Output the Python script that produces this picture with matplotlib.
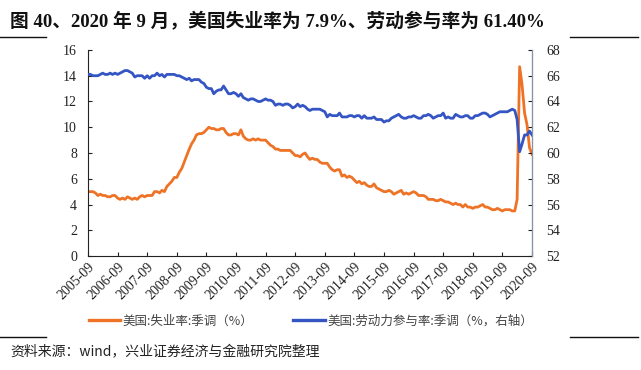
import matplotlib
matplotlib.use("Agg")
import matplotlib.pyplot as plt
import pandas as pd
from matplotlib.lines import Line2D

plt.rcParams["font.family"] = ["Liberation Serif", "Noto Sans CJK SC", "DejaVu Sans"]

# monthly, 2005-09 .. 2020-09
months = pd.date_range("2005-09-01", "2020-09-01", freq="MS")

unemployment = [
    5.0, 5.0, 5.0, 4.9,
    4.7, 4.8, 4.7, 4.7, 4.6, 4.6, 4.7, 4.7, 4.5, 4.4, 4.5, 4.4,
    4.6, 4.5, 4.4, 4.5, 4.4, 4.6, 4.7, 4.6, 4.7, 4.7, 4.7, 5.0,
    5.0, 4.9, 5.1, 5.0, 5.4, 5.6, 5.8, 6.1, 6.1, 6.5, 6.8, 7.3,
    7.8, 8.3, 8.7, 9.0, 9.4, 9.5, 9.5, 9.6, 9.8, 10.0, 9.9, 9.9,
    9.8, 9.8, 9.9, 9.9, 9.6, 9.4, 9.4, 9.5, 9.5, 9.4, 9.8, 9.3,
    9.1, 9.0, 9.0, 9.1, 9.0, 9.1, 9.0, 9.0, 9.0, 8.8, 8.6, 8.5,
    8.3, 8.3, 8.2, 8.2, 8.2, 8.2, 8.2, 8.0, 7.8, 7.8, 7.7, 7.9,
    8.0, 7.7, 7.5, 7.6, 7.5, 7.5, 7.3, 7.2, 7.2, 7.2, 6.9, 6.7,
    6.6, 6.7, 6.7, 6.2, 6.3, 6.1, 6.2, 6.1, 5.9, 5.7, 5.8, 5.6,
    5.7, 5.5, 5.4, 5.4, 5.6, 5.3, 5.2, 5.1, 5.0, 5.0, 5.1, 5.0,
    4.8, 4.9, 5.0, 5.1, 4.8, 4.9, 4.8, 4.9, 5.0, 4.9, 4.7, 4.7,
    4.7, 4.6, 4.4, 4.4, 4.4, 4.3, 4.3, 4.4, 4.3, 4.2, 4.2, 4.1,
    4.0, 4.1, 4.0, 4.0, 3.8, 4.0, 3.8, 3.8, 3.7, 3.8, 3.8, 3.9,
    4.0, 3.8, 3.8, 3.7, 3.6, 3.6, 3.7, 3.6, 3.5, 3.6, 3.6, 3.6,
    3.5, 3.5, 4.4, 14.7, 13.3, 11.1, 10.2, 8.4, 7.9,
]

participation = [
    66.1, 66.1, 66.0, 66.0,
    66.0, 66.1, 66.2, 66.1, 66.1, 66.2, 66.1, 66.2, 66.1, 66.2, 66.3, 66.4,
    66.4, 66.3, 66.2, 65.9, 66.0, 66.0, 66.0, 65.8, 66.0, 65.8, 66.0, 66.0,
    66.2, 66.0, 66.1, 65.9, 66.1, 66.1, 66.1, 66.1, 66.0, 66.0, 65.9, 65.8,
    65.7, 65.8, 65.6, 65.7, 65.7, 65.7, 65.5, 65.4, 65.1, 65.0, 65.0, 64.6,
    64.8, 64.9, 64.9, 65.2, 64.9, 64.6, 64.6, 64.7, 64.6, 64.4, 64.6, 64.3,
    64.2, 64.1, 64.2, 64.2, 64.1, 64.0, 64.0, 64.1, 64.2, 64.1, 64.1, 64.0,
    63.7, 63.8, 63.8, 63.7, 63.8, 63.8, 63.7, 63.5, 63.6, 63.8, 63.6, 63.7,
    63.6, 63.4, 63.3, 63.4, 63.4, 63.4, 63.4, 63.3, 63.2, 62.8, 63.0, 62.9,
    62.9, 62.9, 63.1, 62.8, 62.8, 62.8, 62.9, 62.9, 62.8, 62.9, 62.9, 62.7,
    62.9, 62.7, 62.7, 62.7, 62.8, 62.6, 62.6, 62.6, 62.4, 62.5, 62.5, 62.7,
    62.8, 62.9, 63.0, 62.8, 62.7, 62.7, 62.8, 62.8, 62.9, 62.8, 62.7, 62.7,
    62.9, 62.9, 63.0, 62.9, 62.7, 62.8, 62.9, 62.9, 63.1, 62.7, 62.8, 62.7,
    62.7, 63.0, 62.9, 62.8, 62.8, 62.9, 62.9, 62.7, 62.7, 62.9, 62.9, 63.0,
    63.1, 63.1, 63.0, 62.8, 62.9, 63.0, 63.1, 63.2, 63.2, 63.2, 63.2, 63.3,
    63.4, 63.3, 62.6, 60.1, 60.7, 61.4, 61.4, 61.7, 61.4,
]

tick_years = list(range(2005, 2021))
title = "图 40、2020 年 9 月，美国失业率为 7.9%、劳动参与率为 61.40%"
legend_labels = ["美国:失业率:季调（%）", "美国:劳动力参与率:季调（%，右轴）"]
source = "资料来源：wind，兴业证券经济与金融研究院整理"

ORANGE = "#EE7326"
BLUE = "#3455C3"
CJK = ["Noto Sans CJK SC", "DejaVu Sans"]
SERIF_CJK = ["Liberation Serif", "Noto Sans CJK SC"]

fig = plt.figure(figsize=(6.41, 3.70), dpi=100)
ax = fig.add_axes([0.1373, 0.308, 0.6927, 0.557])
ax2 = ax.twinx()

ax.plot(months, unemployment, color=ORANGE, lw=2.0)
ax2.plot(months, participation, color=BLUE, lw=2.0)

ax.set_ylim(0, 16)
ax.set_yticks(range(0, 17, 2))
ax2.set_ylim(52, 68)
ax2.set_yticks(range(52, 69, 2))

ticks = [pd.Timestamp(f"{y}-09-01") for y in tick_years]
ax.set_xlim(ticks[0], ticks[-1])
ax.set_xticks(ticks)
ax.set_xticklabels([f"{y}-09" for y in tick_years], rotation=45, ha="right",
                   rotation_mode="anchor", fontsize=8.5, color="#222222")

for a in (ax, ax2):
    a.spines["top"].set_visible(False)
    a.tick_params(direction="in", length=3, width=0.8, labelsize=10,
                  colors="#222222")
ax.spines["left"].set_color("#222222")
ax.spines["bottom"].set_color("#222222")
ax2.spines["right"].set_color("#8894a8")
ax2.spines["left"].set_visible(False)
ax2.spines["bottom"].set_visible(False)
ax.tick_params(axis="y", pad=8)
ax.tick_params(axis="x", pad=3)
ax2.tick_params(axis="y", pad=10)

# title and decorative rules
fig.text(0.016, 0.94, title, fontsize=13.5, fontweight="bold", family=SERIF_CJK,
         va="center", color="#111111")
for x0, x1, y in [(0.0, 0.072, 0.90), (0.89, 0.995, 0.90),
                  (0.0, 0.072, 0.088), (0.89, 0.995, 0.088)]:
    fig.add_artist(Line2D([x0, x1], [y, y], color="#111111", lw=1.0))

handles = [Line2D([], [], color=ORANGE, lw=2.4), Line2D([], [], color=BLUE, lw=2.4)]
leg = fig.legend(handles, legend_labels, loc="center", bbox_to_anchor=(0.485, 0.132),
                 ncol=2, frameon=False, handlelength=2.5, handletextpad=0.2,
                 columnspacing=3.2, prop={"family": CJK, "size": 9})
for t in leg.get_texts():
    t.set_color("#444444")

fig.text(0.016, 0.048, source, fontsize=10, family=CJK, va="center", color="#222222")

fig.savefig("out.png", dpi=100)
